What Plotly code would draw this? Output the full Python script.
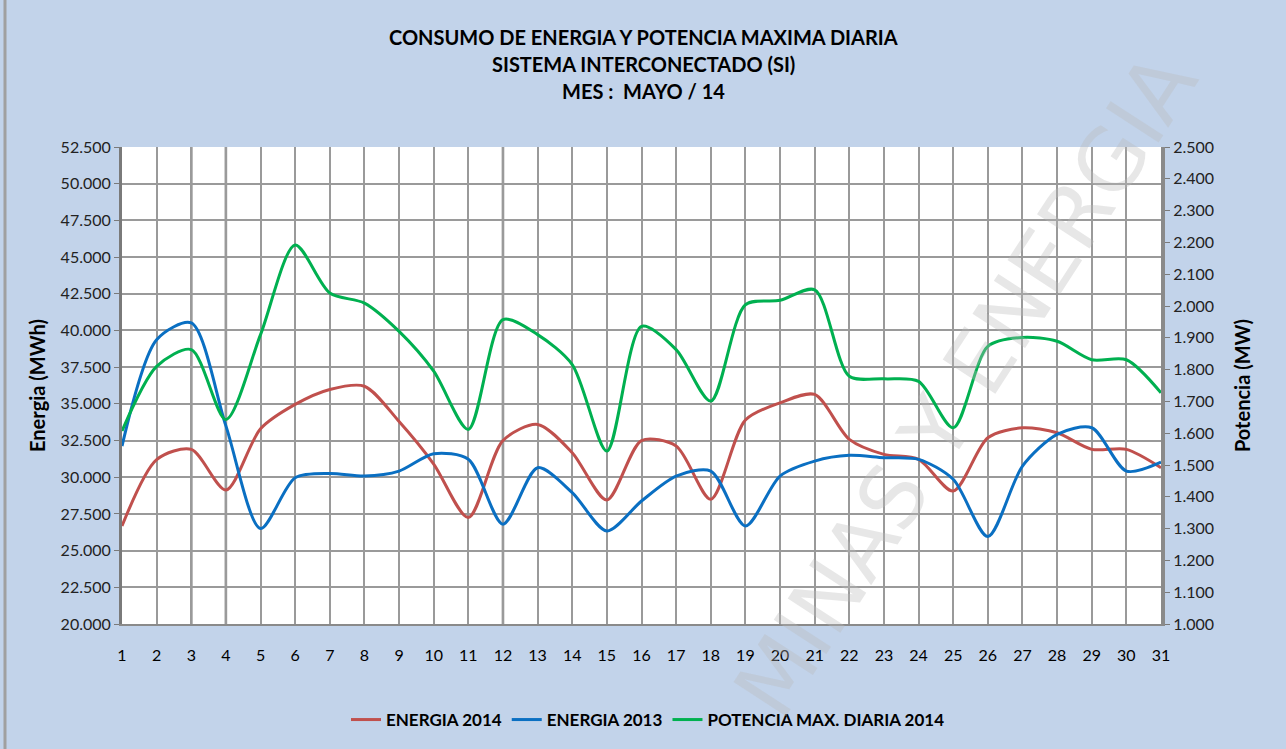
import plotly.graph_objects as go

days = list(range(1, 32))
energia_2014 = [26680, 31200, 31900, 29130, 33300, 34960, 35980, 36200, 33800, 30900,
                27250, 32500, 33600, 31670, 28450, 32500, 32130, 28500, 33900, 35070,
                35640, 32580, 31560, 31220, 29060, 32690, 33370, 33030, 31900, 31900, 30650]
energia_2013 = [32120, 39370, 40510, 33500, 26500, 29970, 30260, 30080, 30420, 31600,
                31220, 26800, 30650, 28950, 26340, 28380, 30080, 30420, 26680, 30080,
                31100, 31490, 31330, 31220, 29860, 25960, 30760, 32920, 33370, 30420, 31030]
potencia_2014 = [1607, 1810, 1863, 1643, 1910, 2192, 2041, 2009, 1920, 1795,
                 1612, 1957, 1910, 1816, 1544, 1936, 1863, 1701, 2004, 2018,
                 2051, 1779, 1771, 1763, 1617, 1873, 1901, 1889, 1831, 1831, 1727]
dark_days = [3, 4, 12]

names = ["ENERGIA 2014", "ENERGIA 2013", "POTENCIA MAX. DIARIA 2014"]
colors = ["#C0504D", "#0A6FC2", "#00B050"]
title_lines = ["CONSUMO DE ENERGIA Y POTENCIA MAXIMA DIARIA",
               "SISTEMA INTERCONECTADO (SI)",
               "MES :  MAYO / 14"]

FONT = "Lato"

fig = go.Figure()
fig.add_trace(go.Scatter(x=days, y=energia_2014, name=names[0], mode="lines",
                         line=dict(color=colors[0], width=3, shape="spline", smoothing=0.8)))
fig.add_trace(go.Scatter(x=days, y=energia_2013, name=names[1], mode="lines",
                         line=dict(color=colors[1], width=3, shape="spline", smoothing=0.8)))
fig.add_trace(go.Scatter(x=days, y=potencia_2014, name=names[2], mode="lines", yaxis="y2",
                         line=dict(color=colors[2], width=3, shape="spline", smoothing=0.8)))

for d in dark_days:
    fig.add_shape(type="line", xref="x", yref="paper", x0=d, x1=d, y0=0, y1=1,
                  line=dict(color="#7a7a7a", width=2.5), layer="below")

# title
for t, yy in zip(title_lines, [1.230, 1.174, 1.117]):
    fig.add_annotation(text="<b>%s</b>" % t, xref="paper", yref="paper",
                       x=(643 - 122) / 1039, y=yy, showarrow=False,
                       font=dict(family=FONT, size=20, color="#000000"),
                       xanchor="center", yanchor="middle")

# watermark
fig.add_annotation(text="MINAS Y ENERGIA", xref="paper", yref="paper",
                   x=(965 - 122) / 1039, y=(625 - 385) / 478, showarrow=False, textangle=-57,
                   font=dict(family="DejaVu Sans", size=86, color="rgba(185,185,185,0.35)"),
                   xanchor="center", yanchor="middle")

# outer frame line at left
fig.add_shape(type="line", xref="paper", yref="paper",
              x0=(5 - 122) / 1039, x1=(5 - 122) / 1039, y0=-0.3, y1=1.35,
              line=dict(color="#a0a0a0", width=3))

fig.update_layout(
    width=1286, height=749,
    margin=dict(l=122, r=125, t=147, b=124),
    paper_bgcolor="#c2d3ea",
    plot_bgcolor="#ffffff",
    separators=",.",
    font=dict(family=FONT, size=15, color="#222222"),
    showlegend=True,
    legend=dict(orientation="h", x=(648 - 122) / 1039, xanchor="center",
                y=(625 - 720) / 478, yanchor="middle",
                font=dict(family=FONT, size=17, color="#000000", weight="bold"),
                bgcolor="rgba(0,0,0,0)", itemwidth=30, tracegroupgap=0),
    xaxis=dict(range=[1, 31], dtick=1, tick0=1, showgrid=True, gridcolor="#9a9a9a",
               gridwidth=1.5, zeroline=False, showline=True, linecolor="#8a8a8a",
               linewidth=2, ticks="", ticklabelstandoff=16,
               tickfont=dict(family=FONT, size=16, color="#000000"), mirror=False),
    yaxis=dict(range=[20000, 52500], dtick=2500, tick0=20000, tickformat=",d",
               showgrid=True, gridcolor="#9a9a9a", gridwidth=1.5, zeroline=False,
               showline=True, linecolor="#7a7a7a", linewidth=3, ticks="outside",
               ticklen=5, tickcolor="#7a7a7a",
               tickfont=dict(family=FONT, size=16, color="#222222"),
               title=dict(text="<b>Energia (MWh)</b>", standoff=10,
                          font=dict(family=FONT, size=20, color="#000000"))),
    yaxis2=dict(range=[1000, 2500], dtick=100, tick0=1000, tickformat=",d",
                overlaying="y", side="right", showgrid=False, zeroline=False,
                showline=True, linecolor="#8a8a8a", linewidth=4, ticks="outside",
                ticklen=5, tickcolor="#7a7a7a",
                tickfont=dict(family=FONT, size=16, color="#222222"),
                title=dict(text="<b>Potencia (MW)</b>", standoff=24,
                           font=dict(family=FONT, size=20, color="#000000"))),
)

fig.write_html("out.html", config={"displayModeBar": False},
               post_script="document.body.style.margin='0px';")
